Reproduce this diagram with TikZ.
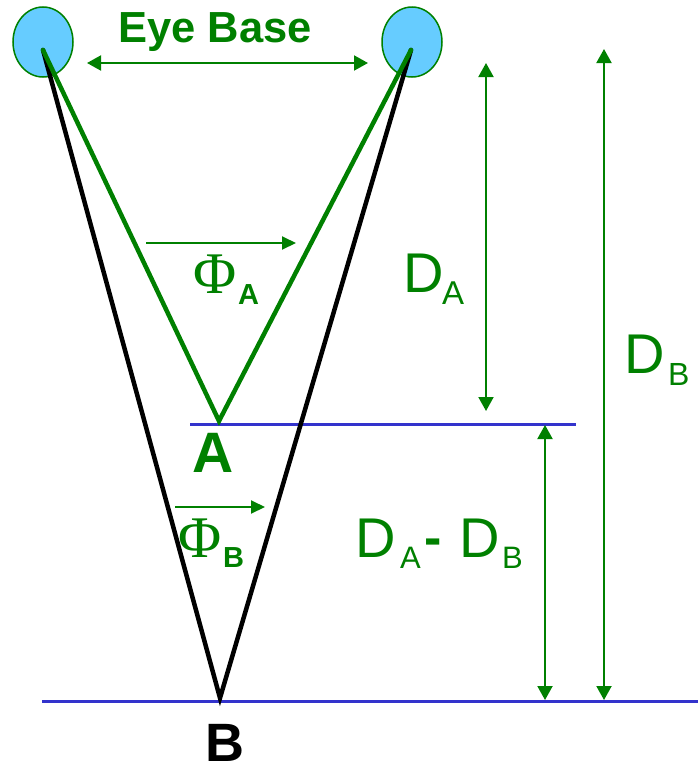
\documentclass[tikz,border=0pt]{standalone}
\usepackage{fontspec}
\setmainfont{Liberation Sans}
\newfontfamily\phifont{Liberation Serif}
\usetikzlibrary{arrows.meta}
\definecolor{dgreen}{RGB}{0,128,0}
\definecolor{lblue}{RGB}{51,51,204}
\definecolor{eyefill}{RGB}{102,204,255}
\newcommand{\fsz}[1]{\fontsize{#1}{#1}\selectfont}
\tikzset{
  dim/.style={dgreen, line width=2pt, {Triangle[width=15pt,length=14pt]}-{Triangle[width=15pt,length=14pt]}},
  onearrow/.style={dgreen, line width=2pt, -{Triangle[width=13pt,length=14pt]}},
  ray/.style={line width=4.5pt, line cap=round},
  level/.style={lblue, line width=3pt},
  eye/.style={draw=dgreen, fill=eyefill, line width=1.5pt},
  lbl/.style={inner sep=0pt, anchor=base west, text=dgreen}
}
\begin{document}
\begin{tikzpicture}[x=1pt,y=-1pt]
\useasboundingbox (0,0) rectangle (698,763);
% eyes
\draw[eye] (43,42) ellipse [x radius=30, y radius=35];
\draw[eye] (412,42) ellipse [x radius=30, y radius=35];
% key points
\coordinate (L) at (43,50);
\coordinate (R) at (411,50);
\coordinate (A) at (219,421);
\coordinate (B) at (220,698);
% level lines
\coordinate (a1) at (190,424); \coordinate (a2) at (576,424);
\coordinate (b1) at (42,701); \coordinate (b2) at (698,701);
\draw[level] (a1) -- (a2);
\draw[level] (b1) -- (b2);
% black rays to B
\draw[ray, black] (L) -- (B) -- (R);
% green rays to A
\draw[ray, dgreen, line join=miter] (L) -- (A) -- (R);
% eye base
\coordinate (e1) at (87,63); \coordinate (e2) at (368,63);
\draw[dim] (e1) -- (e2);
\node[lbl, font=\bfseries\fsz{43.5}] (eb) at (118,42) {Eye Base};
% angle arrows
\coordinate (pa1) at (146,243); \coordinate (pa2) at (296,243);
\draw[onearrow] (pa1) -- (pa2);
\coordinate (pb1) at (175,507); \coordinate (pb2) at (265,507);
\draw[onearrow] (pb1) -- (pb2);
\node[lbl] (phiA) at (193,293) {\phifont\fsz{59}\char"03A6};
\node[lbl, font=\bfseries\fsz{29}] (phiAs) at (238,304) {A};
\node[lbl] (phiB) at (178,557) {\phifont\fsz{59}\char"03A6};
\node[lbl, font=\bfseries\fsz{29}] (phiBs) at (223,567) {B};
% point labels
\node[lbl, font=\bfseries\fsz{57}] (lA) at (192,472) {A};
\node[lbl, text=black, font=\bfseries\fsz{54}] (lB) at (205,761) {B};
% distance arrows
\coordinate (da1) at (486,63); \coordinate (da2) at (486,411);
\draw[dim] (da1) -- (da2);
\coordinate (db1) at (604,49); \coordinate (db2) at (604,700);
\draw[dim] (db1) -- (db2);
\coordinate (dd1) at (545,425); \coordinate (dd2) at (545,700);
\draw[dim] (dd1) -- (dd2);
% distance labels
\node[lbl, font=\fsz{56}] (DA) at (403,292) {D};
\node[lbl, font=\fsz{33}] (DAs) at (442,304) {A};
\node[lbl, font=\fsz{56}] (DB) at (624,373) {D};
\node[lbl, font=\fsz{32}] (DBs) at (668,385) {B};
\node[lbl, font=\fsz{56}] (DD1) at (355,557) {D};
\node[lbl, font=\fsz{31}] (DD1s) at (400,568) {A};
\node[lbl, font=\bfseries\fsz{52}] (DDm) at (424,555) {-};
\node[lbl, font=\fsz{56}] (DD2) at (459,557) {D};
\node[lbl, font=\fsz{31}] (DD2s) at (502,568) {B};
\end{tikzpicture}
\end{document}
